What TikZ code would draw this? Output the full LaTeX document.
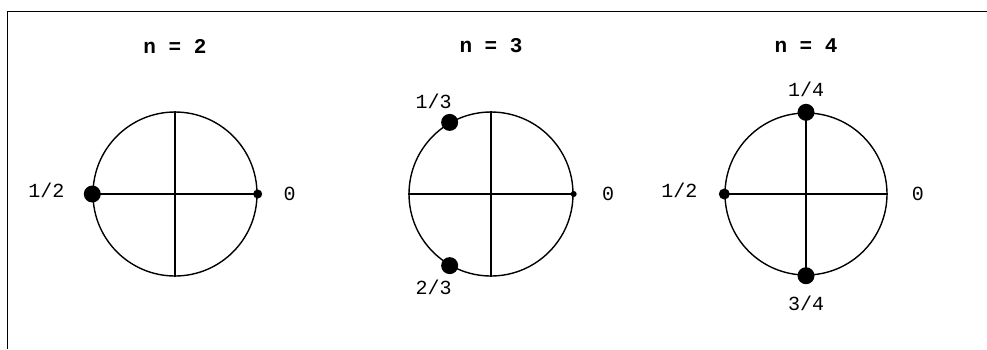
\documentclass[tikz,border=0pt]{standalone}
\usepackage{fontspec}
\setmonofont{Liberation Mono}
\usetikzlibrary{positioning}

\begin{document}
\begin{tikzpicture}[
    x=1pt, y=-1pt,
    node distance=16pt,
    ring/.style={draw, circle, line width=1.4pt, inner sep=0pt, minimum size=164pt},
    axis/.style={line width=1.5pt},
    bigdot/.style={circle, fill, inner sep=0pt, minimum size=17pt},
    middot/.style={circle, fill, inner sep=0pt, minimum size=11pt},
    smalldot/.style={circle, fill, inner sep=0pt, minimum size=9pt},
    lbl/.style={font=\ttfamily\fontsize{20}{22}\selectfont, inner sep=1pt},
    title/.style={font=\ttfamily\bfseries\fontsize{21}{24}\selectfont}
]
    \useasboundingbox (0,0) rectangle (987,349);
    \draw[line width=1pt] (7,349) -- (7,11) -- (987,11);

    % n = 2
    \node[ring] (c1) at (175,194) {};
    \draw[axis] (c1.west) -- (c1.east);
    \draw[axis] (c1.north) -- (c1.south);
    \node[title] (t1) at (175,46) {n = 2};
    \node[bigdot] (h1) at (c1.west) {};
    \node[smalldot] (z1) at (c1.east) {};
    \node[lbl, left=18pt of h1, yshift=4pt] {1/2};
    \node[lbl, right=20pt of z1] {0};

    % n = 3
    \node[ring] (c2) at (491,194) {};
    \draw[axis] (c2.west) -- (c2.east);
    \draw[axis] (c2.north) -- (c2.south);
    \node[title] (t2) at (491,46) {n = 3};
    \node[bigdot] (a2) at (c2.120) {};
    \node[bigdot] (b2) at (c2.240) {};
    \node[smalldot, minimum size=6pt] (z2) at (c2.east) {};
    \node[lbl, above=4pt of a2, xshift=-16pt] {1/3};
    \node[lbl, below=4pt of b2, xshift=-16pt] {2/3};
    \node[lbl, right=24pt of z2] {0};

    % n = 4
    \node[ring, minimum size=162pt] (c3) at (806,194) {};
    \draw[axis] (c3.west) -- (c3.east);
    \draw[axis] (c3.north) -- (c3.south);
    \node[title] (t3) at (806,46) {n = 4};
    \node[bigdot] (a3) at (c3.north) {};
    \node[bigdot] (b3) at (c3.south) {};
    \node[middot] (h3) at (c3.west) {};
    \node[lbl, above=6pt of a3] {1/4};
    \node[lbl, below=10pt of b3] {3/4};
    \node[lbl, left=20pt of h3, yshift=4pt] {1/2};
    \node[lbl, right=23pt of c3.east] {0};
\end{tikzpicture}
\end{document}
